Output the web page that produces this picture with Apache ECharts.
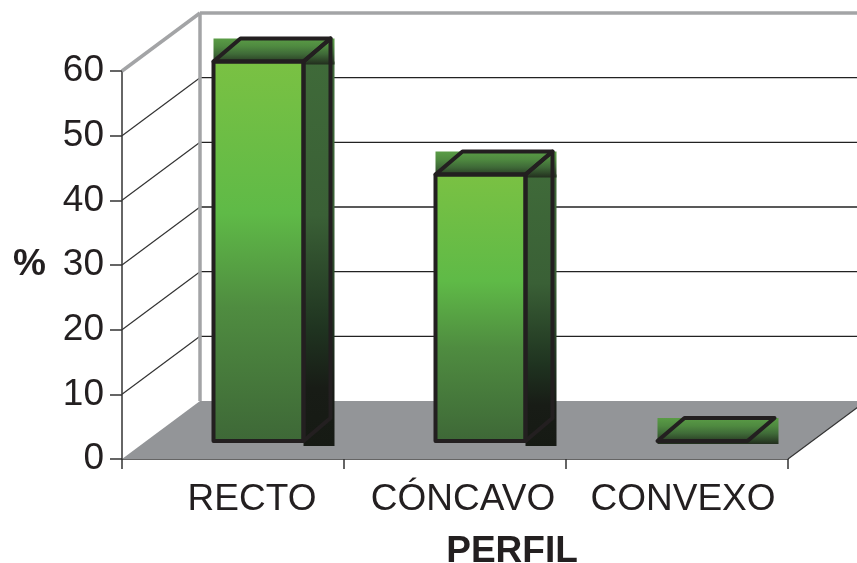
<!DOCTYPE html>
<html><head><meta charset="utf-8">
<style>html,body{margin:0;padding:0;background:#fff}#c{width:857px;height:563px}</style>
<script src="https://cdn.jsdelivr.net/npm/echarts@6/dist/echarts.min.js"></script>
</head><body><div id="c"></div>
<script>
const categories = ['RECTO', 'CÓNCAVO', 'CONVEXO'];
const values = [58.7, 41.2, 0];
const yTicks = [10, 20, 30, 40, 50, 60];
const yAxisTitle = '%';
const xAxisTitle = 'PERFIL';

const FONT = '"Liberation Sans", Arial, sans-serif';
const labelShifts = [38, 16, 12];
const WALL = [78, -58];      // depth of the chart box, px
const PLANE = [25.5, -18];   // plane the bars stand on, px
const DEPTH = [27, -23];     // depth of a bar, px
const HALF = 45;             // half width of a bar, px
const INK = '#231f20';
const GREY = '#a3a4a6';

const grad = (stops) => ({type:'linear',x:0,y:0,x2:0,y2:1,colorStops:stops.map(s=>({offset:s[0],color:s[1]}))});
const poly = (points, style, z2) => ({type:'polygon',shape:{points},style,z2:z2||0});
const line = (a, b, stroke, lineWidth, z2) => ({type:'line',shape:{x1:a[0],y1:a[1],x2:b[0],y2:b[1]},style:{stroke,lineWidth},z2:z2||0});

function renderBox(params, api) {
  const r = params.coordSys;
  const x0 = r.x, x1 = r.x + r.width, yb = r.y + r.height;
  const kids = [];
  kids.push(poly([[x0,yb],[x0+WALL[0],yb+WALL[1]],[x1+WALL[0],yb+WALL[1]],[x1,yb]],{fill:'#939598'}));
  yTicks.forEach(v => {
    const y = api.coord([0, v])[1];
    const back = [x0+WALL[0], y+WALL[1]];
    if (v === yTicks[yTicks.length-1]) {
      kids.push(line([x0,y],back,GREY,3.5));
      kids.push(line(back,[x1+WALL[0],back[1]],GREY,3.5));
    } else {
      kids.push(line([x0,y],back,'#333',1.2));
      kids.push(line(back,[x1+WALL[0],back[1]],'#222',1.3));
    }
  });
  kids.push(line([x0+WALL[0],r.y+WALL[1]],[x0+WALL[0],yb+WALL[1]],GREY,3.5));
  kids.push(line([x1,yb],[x1+WALL[0],yb+WALL[1]],'#333',1.2));
  return {type:'group',children:kids};
}

function renderBar(params, api) {
  const top = api.coord([api.value(0), api.value(1)]);
  const base = api.coord([api.value(0), 0]);
  const l = top[0]+PLANE[0]-HALF, r = top[0]+PLANE[0]+HALF;
  const yt = top[1]+PLANE[1], yb = base[1]+PLANE[1];
  const dx = DEPTH[0], dy = DEPTH[1];
  const stroke = {fill:'none',stroke:INK,lineWidth:4,lineJoin:'round'};
  const kids = [];
  const hasBody = yb - yt > 2;
  if (hasBody) {
    kids.push({type:'rect',shape:{x:r,y:yt,width:dx+4,height:yb-yt+5},style:{fill:grad([[0,'#3f6a39'],[0.4,'#3a6036'],[0.7,'#1f3320'],[0.85,'#181c16'],[1,'#161a14']])}});
  }
  kids.push({type:'rect',shape:{x:l,y:yt+dy,width:r-l+dx+4,height:-dy+3},style:{fill:grad([[0,'#5a9c46'],[0.3,'#4f8a40'],[0.6,'#3f6a38'],[1,'#222e1e']])}});
  if (hasBody) {
    kids.push({type:'rect',shape:{x:l,y:yt,width:r-l,height:yb-yt},style:{fill:grad([[0,'#7ac143'],[0.4,'#5fba47'],[0.65,'#4f8c40'],[1,'#3e6837']])}});
    kids.push({type:'rect',shape:{x:l,y:yt,width:r-l,height:yb-yt},style:stroke});
    kids.push(poly([[r,yt],[r+dx,yt+dy],[r+dx,yb+dy],[r,yb]],stroke));
  }
  kids.push(poly([[l,yt],[l+dx,yt+dy],[r+dx,yt+dy],[r,yt]],stroke));
  return {type:'group',children:kids};
}

const chart = echarts.init(document.getElementById('c'), null, {renderer:'canvas'});
chart.setOption({
  animation:false,
  textStyle:{fontFamily:FONT},
  grid:{left:122,right:69,top:71,bottom:104,containLabel:false,outerBoundsMode:'none'},
  xAxis:{
    type:'category',
    data:categories.map((c,i)=>({value:c,textStyle:{padding:[0,0,0,labelShifts[i]]}})),
    boundaryGap:true,
    axisLine:{show:true,lineStyle:{color:'#333',width:1.5}},
    axisTick:{show:true,alignWithLabel:false,length:10,lineStyle:{color:'#333',width:1.5}},
    axisLabel:{interval:0,fontFamily:FONT,fontSize:37,color:'#231f20',margin:22,hideOverlap:false},
    splitLine:{show:false},
    name:xAxisTitle,nameLocation:'middle',nameGap:74,
    nameTextStyle:{fontFamily:FONT,fontSize:37,fontWeight:'bold',color:'#231f20',padding:[0,0,0,114]}
  },
  yAxis:{
    type:'value',min:0,max:60,interval:10,
    axisLine:{show:true,lineStyle:{color:'#333',width:1.5}},
    axisTick:{show:true,length:12,lineStyle:{color:'#333',width:1.5}},
    axisLabel:{fontFamily:FONT,fontSize:37,color:'#231f20',margin:18},
    splitLine:{show:false},
    name:yAxisTitle,nameLocation:'middle',nameRotate:0,nameGap:76,
    nameTextStyle:{fontFamily:FONT,fontSize:37,fontWeight:'bold',color:'#231f20',padding:[0,0,2,0]}
  },
  series:[
    {type:'custom',coordinateSystem:'cartesian2d',clip:false,silent:true,z:1,data:[[0,0]],renderItem:renderBox},
    {type:'custom',coordinateSystem:'cartesian2d',clip:false,silent:true,z:2,encode:{x:0,y:1},
     data:values.map((v,i)=>[i,v]),renderItem:renderBar}
  ]
});
</script></body></html>
